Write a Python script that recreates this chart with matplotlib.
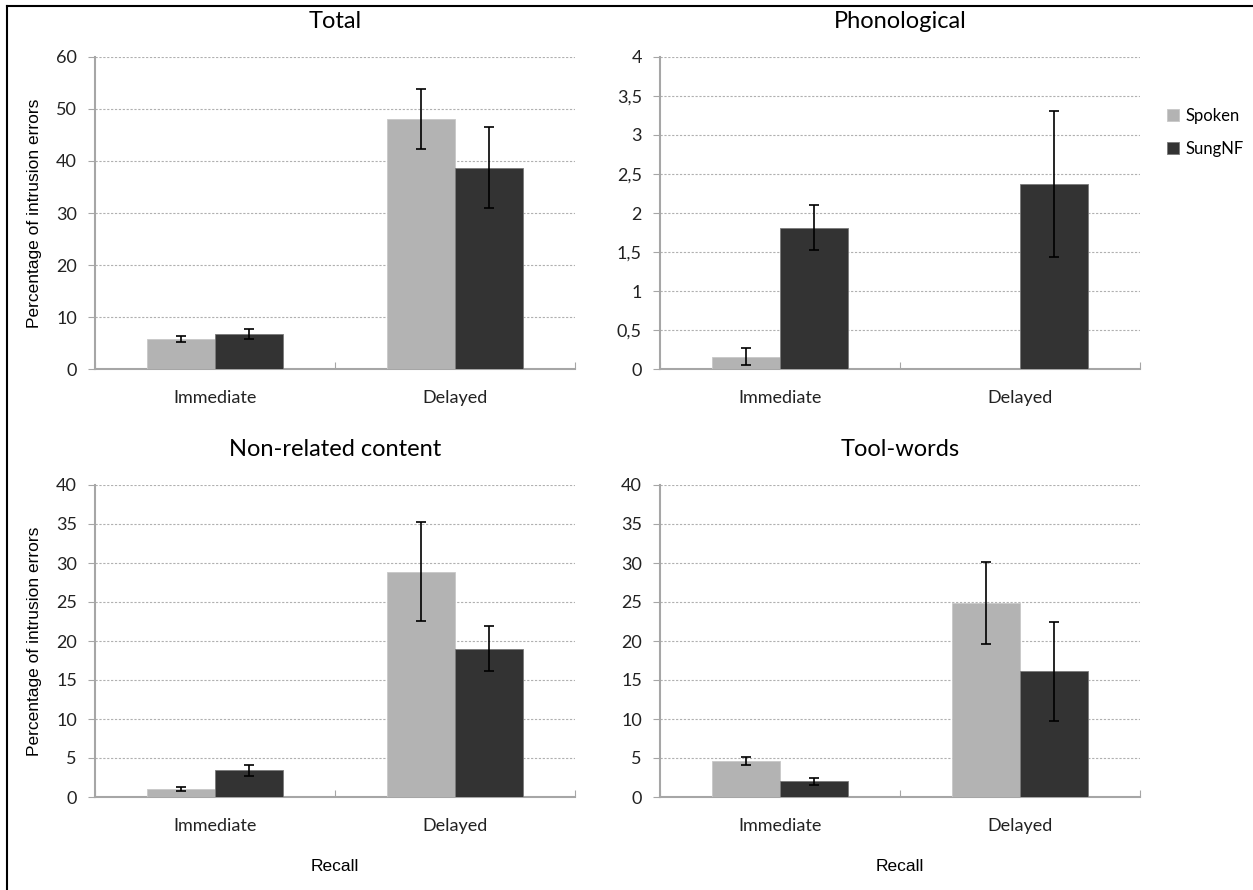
import matplotlib
matplotlib.use("Agg")
import matplotlib.pyplot as plt
from matplotlib.lines import Line2D
from matplotlib.ticker import FuncFormatter

# data
categories = ["Immediate", "Delayed"]
series = ["Spoken", "SungNF"]
colors = ["#b3b3b3", "#333333"]

titles = ["Total", "Phonological", "Non-related content", "Tool-words"]

total_spoken = [5.8, 48.1]
total_spoken_err = [0.55, 5.8]
total_sung = [6.7, 38.7]
total_sung_err = [0.9, 7.8]

phono_spoken = [0.16, 0.0]
phono_spoken_err = [0.11, 0.0]
phono_sung = [1.81, 2.37]
phono_sung_err = [0.29, 0.94]

nonrel_spoken = [1.0, 28.9]
nonrel_spoken_err = [0.28, 6.35]
nonrel_sung = [3.4, 19.0]
nonrel_sung_err = [0.75, 2.9]

tool_spoken = [4.6, 24.85]
tool_spoken_err = [0.5, 5.25]
tool_sung = [2.02, 16.1]
tool_sung_err = [0.42, 6.4]

y_limits = [60, 4, 40, 40]
y_steps = [10, 0.5, 5, 5]

panels = [
    (total_spoken, total_spoken_err, total_sung, total_sung_err),
    (phono_spoken, phono_spoken_err, phono_sung, phono_sung_err),
    (nonrel_spoken, nonrel_spoken_err, nonrel_sung, nonrel_sung_err),
    (tool_spoken, tool_spoken_err, tool_sung, tool_sung_err),
]

W, H = 1253, 890
fig = plt.figure(figsize=(W / 100, H / 100), dpi=100)

# axes boxes in pixels: left, top, right, bottom
boxes = [(95, 57, 575, 369), (660, 57, 1140, 369),
         (95, 485, 575, 797), (660, 485, 1140, 797)]

label_font = "Lato"
arial = "Liberation Sans"
spine_col = "#a6a6a6"
bar_w = 0.285

for i, (box, data) in enumerate(zip(boxes, panels)):
    l, t, r, b = box
    ax = fig.add_axes([l / W, 1 - b / H, (r - l) / W, (b - t) / H])
    sp, sp_err, su, su_err = data
    x = list(range(len(categories)))
    ax.bar([v - bar_w / 2 for v in x], sp, bar_w, color=colors[0],
           edgecolor="#c8c8c8", linewidth=0.6, zorder=3, label=series[0])
    ax.bar([v + bar_w / 2 for v in x], su, bar_w, color=colors[1],
           edgecolor="#7a7a7a", linewidth=0.6, zorder=3, label=series[1])
    for xs, vals, errs in [([v - bar_w / 2 for v in x], sp, sp_err),
                           ([v + bar_w / 2 for v in x], su, su_err)]:
        for xx, vv, ee in zip(xs, vals, errs):
            if ee > 0:
                ax.errorbar(xx, vv, yerr=ee, fmt="none", ecolor="black",
                            elinewidth=1.2, capsize=3.5, capthick=1.2, zorder=4)

    ax.set_xlim(-0.5, 1.5)
    ax.set_ylim(0, y_limits[i])
    step = y_steps[i]
    n = int(round(y_limits[i] / step))
    ax.set_yticks([k * step for k in range(n + 1)])
    if i == 1:
        ax.yaxis.set_major_formatter(FuncFormatter(
            lambda v, p: ("%g" % v).replace(".", ",")))
    ax.yaxis.grid(True, linestyle=(0, (2, 1.5)), color="#b0b0b0",
                  linewidth=0.8, zorder=0)
    ax.set_axisbelow(True)

    ax.set_xticks([-0.5, 0.5, 1.5])
    ax.set_xticklabels([])
    ax.set_xticks(x, minor=True)
    ax.set_xticklabels(categories, minor=True, fontsize=13,
                       family=label_font, color="#222222")
    ax.tick_params(axis="x", which="minor", length=0, pad=15)
    ax.tick_params(axis="x", which="major", length=5, color=spine_col,
                   direction="in")
    ax.tick_params(axis="y", length=5, color=spine_col, direction="out",
                   labelsize=13, pad=8, labelcolor="#222222")
    for lab in ax.get_yticklabels():
        lab.set_family(label_font)

    for s in ["top", "right"]:
        ax.spines[s].set_visible(False)
    for s in ["left", "bottom"]:
        ax.spines[s].set_color(spine_col)
        ax.spines[s].set_linewidth(1.5)

    ax.set_title(titles[i], fontsize=17, family=label_font, pad=21)
    if i in (0, 2):
        ax.set_ylabel("Percentage of intrusion errors", fontsize=12.5,
                      family=arial, labelpad=10)
    if i in (2, 3):
        ax.set_xlabel("Recall", fontsize=12.5, family=arial, labelpad=18)
    if i == 1:
        handles, labels = ax.get_legend_handles_labels()

fig.legend(handles, labels, loc="upper left",
           bbox_to_anchor=(1152 / W, 1 - 93 / H), frameon=False,
           prop={"family": label_font, "size": 12},
           handlelength=0.7, handleheight=0.7, handletextpad=0.4,
           labelspacing=1.0)

# outer frame lines (top and left)
fig.add_artist(Line2D([7 / W, 1], [1 - 6 / H, 1 - 6 / H], color="black",
                      linewidth=1.5, transform=fig.transFigure))
fig.add_artist(Line2D([7 / W, 7 / W], [0, 1 - 6 / H], color="black",
                      linewidth=1.5, transform=fig.transFigure))

fig.savefig("out.png", dpi=100)
